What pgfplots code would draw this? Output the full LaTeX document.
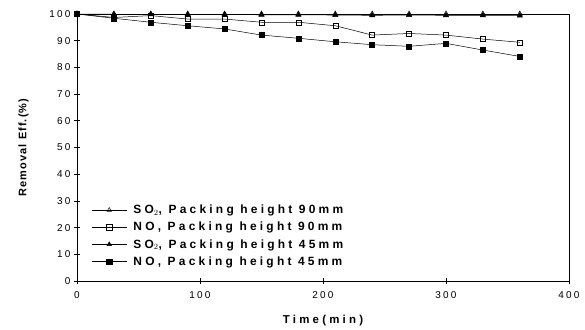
\documentclass[border=0pt]{standalone}
\usepackage{fontspec}
\setmainfont{Liberation Sans}
\newfontfamily\legfont[LetterSpace=27]{Liberation Sans}
\newfontfamily\xlabfont[LetterSpace=28]{Liberation Sans}
\newfontfamily\ylabfont[LetterSpace=10]{Liberation Sans}
\newfontfamily\tickfont[LetterSpace=22]{Liberation Sans}
\usepackage{pgfplots}
\pgfplotsset{compat=1.18}
\begin{document}
\begin{tikzpicture}[x=1bp,y=1bp]
\begin{axis}[
  scale only axis,
  width=492bp, height=267bp,
  xmin=0, xmax=400, ymin=0, ymax=100,
  xtick={0,100,...,400}, ytick={0,10,...,100},
  xtick pos=bottom, ytick pos=left,
  tick align=center,
  major tick length=6bp,
  tick style={black, line width=0.6pt},
  axis line style={line width=0.6pt},
  ticklabel style={font=\fontsize{10}{12}\selectfont\tickfont},
  xticklabel style={yshift=-4bp},
  /pgf/number format/assume math mode=true,
  xlabel={\bfseries\xlabfont Time(min)},
  ylabel={\bfseries\ylabfont Removal Eff.(\%)},
  xlabel style={font=\fontsize{11.5}{13}\selectfont, yshift=-10bp},
  ylabel style={font=\fontsize{11}{13}\selectfont, yshift=14bp},
  legend style={draw=none, fill=none, at={(0.024,0.30)}, anchor=north west,
    font=\fontsize{12}{14}\selectfont\bfseries\legfont, row sep=3bp},
  legend image code/.code={\draw[#1, mark size=2.6bp] (0bp,0bp) -- (17bp,0bp) plot coordinates {(17bp,0bp)} -- (35bp,0bp);},
  legend cell align=left,
  legend style={nodes={inner xsep=6bp}},
]
\addplot[black, line width=0.5pt, mark=triangle, mark size=3bp, mark options={solid, fill=white}] coordinates {
(0,100) (30,100) (60,100) (90,100) (120,100) (150,100) (180,100) (210,100) (240,100) (270,100) (300,100) (330,100) (360,100)};
\addlegendentry{SO$_2$, Packing height 90mm}
\addplot[black, line width=0.5pt, mark=square, mark size=2.5bp, mark options={solid, fill=white}] coordinates {
(0,100) (30,98.7) (60,99.4) (90,98.1) (120,98.1) (150,96.9) (180,96.9) (210,95.6) (240,92.1) (270,92.7) (300,92.1) (330,90.6) (360,89.4)};
\addlegendentry{NO, Packing height 90mm}
\addplot[black, line width=0.5pt, mark=triangle*, mark size=3bp, mark options={solid, fill=black}] coordinates {
(0,100) (30,99.9) (60,99.9) (90,99.8) (120,99.8) (150,99.7) (180,99.7) (210,99.6) (240,99.5) (270,99.6) (300,99.5) (330,99.5) (360,99.4)};
\addlegendentry{SO$_2$, Packing height 45mm}
\addplot[black, line width=0.5pt, mark=square*, mark size=2.5bp, mark options={solid, fill=black}] coordinates {
(0,100) (30,98.4) (60,96.9) (90,95.6) (120,94.4) (150,92.1) (180,90.9) (210,89.6) (240,88.5) (270,87.9) (300,89.0) (330,86.5) (360,84.1)};
\addlegendentry{NO, Packing height 45mm}
\end{axis}
\path (-77bp,-44bp) rectangle (508bp,281bp);
\end{tikzpicture}
\end{document}
